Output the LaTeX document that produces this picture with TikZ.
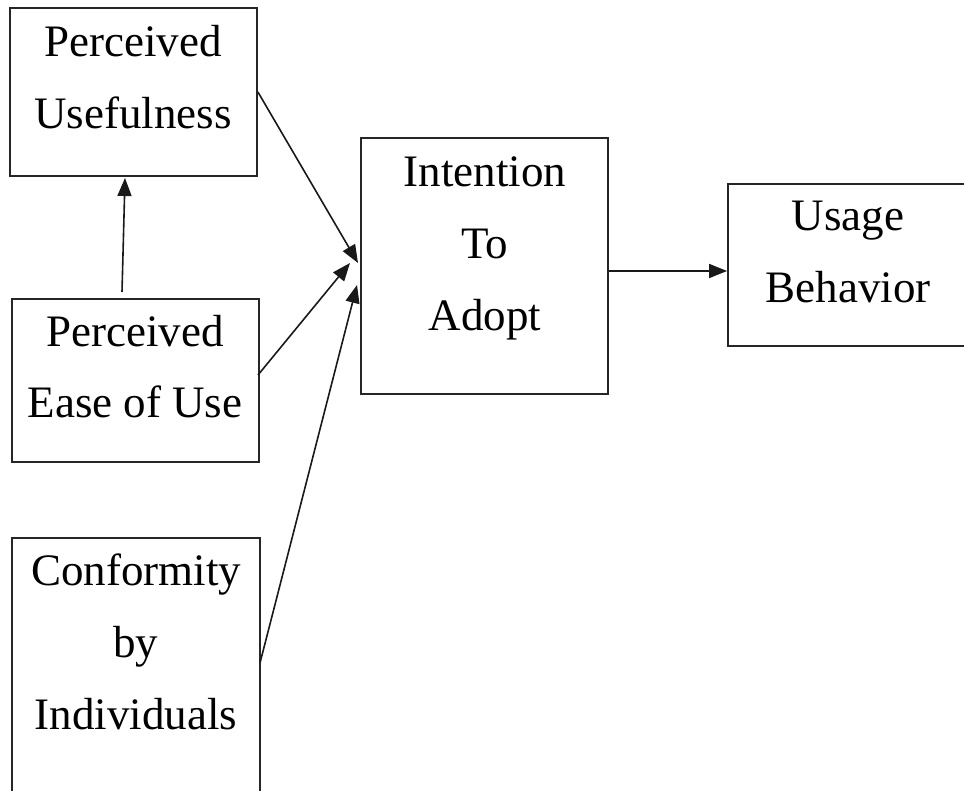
\documentclass[tikz,border=0pt]{standalone}
\usepackage{fontspec}
\setmainfont{Liberation Serif}
\usetikzlibrary{arrows.meta}
\begin{document}
\begin{tikzpicture}[x=1pt,y=-1pt,
  box/.style={draw=black!85,line width=1.8pt,rectangle,inner sep=0pt},
  txt/.style={align=center,font=\fontsize{45}{72}\selectfont,inner sep=0pt,anchor=base},
  arr/.style={draw=black!90,line width=1.6pt,-{Triangle[length=18pt,width=14pt]}}]
\useasboundingbox (0,0) rectangle (964,791);
% boxes
\node[box,minimum width=247pt,minimum height=168pt] (pu) at (133.5,92) {};
\node[box,minimum width=247pt,minimum height=163pt] (peu) at (135.5,380.5) {};
\node[box,minimum width=248pt,minimum height=272pt] (ci) at (136,674) {};
\node[box,minimum width=247pt,minimum height=256pt] (ita) at (484.5,266) {};
\node[box,minimum width=250pt,minimum height=162pt] (ub) at (853,265) {};
% texts (anchor = baseline of last line)
\node[txt] (tpu) at (133,129) {Perceived\\Usefulness};
\node[txt] (tpeu) at (135,418) {Perceived\\Ease of Use};
\node[txt] (tci) at (136,729) {Conformity\\by\\Individuals};
\node[txt] (tita) at (485,331) {Intention\\To\\Adopt};
\node[txt] (tub) at (848,303) {Usage\\Behavior};
% connector end points
\coordinate (a1) at (358,263);
\coordinate (a2) at (350,263);
\coordinate (a3) at (357,285);
\coordinate (s3) at (260,663);
\coordinate (s2) at (258,375);
\coordinate (v1) at (122,292);
\coordinate (v2) at (125,178);
% connectors
\draw[arr] (pu.east) -- (a1);
\draw[arr] (s2) -- (a2);
\draw[arr] (s3) -- (a3);
\draw[arr] (v1) -- (v2);
\draw[arr] (ita.east |- 0,271) -- (ub.west |- 0,271);
\end{tikzpicture}
\end{document}
